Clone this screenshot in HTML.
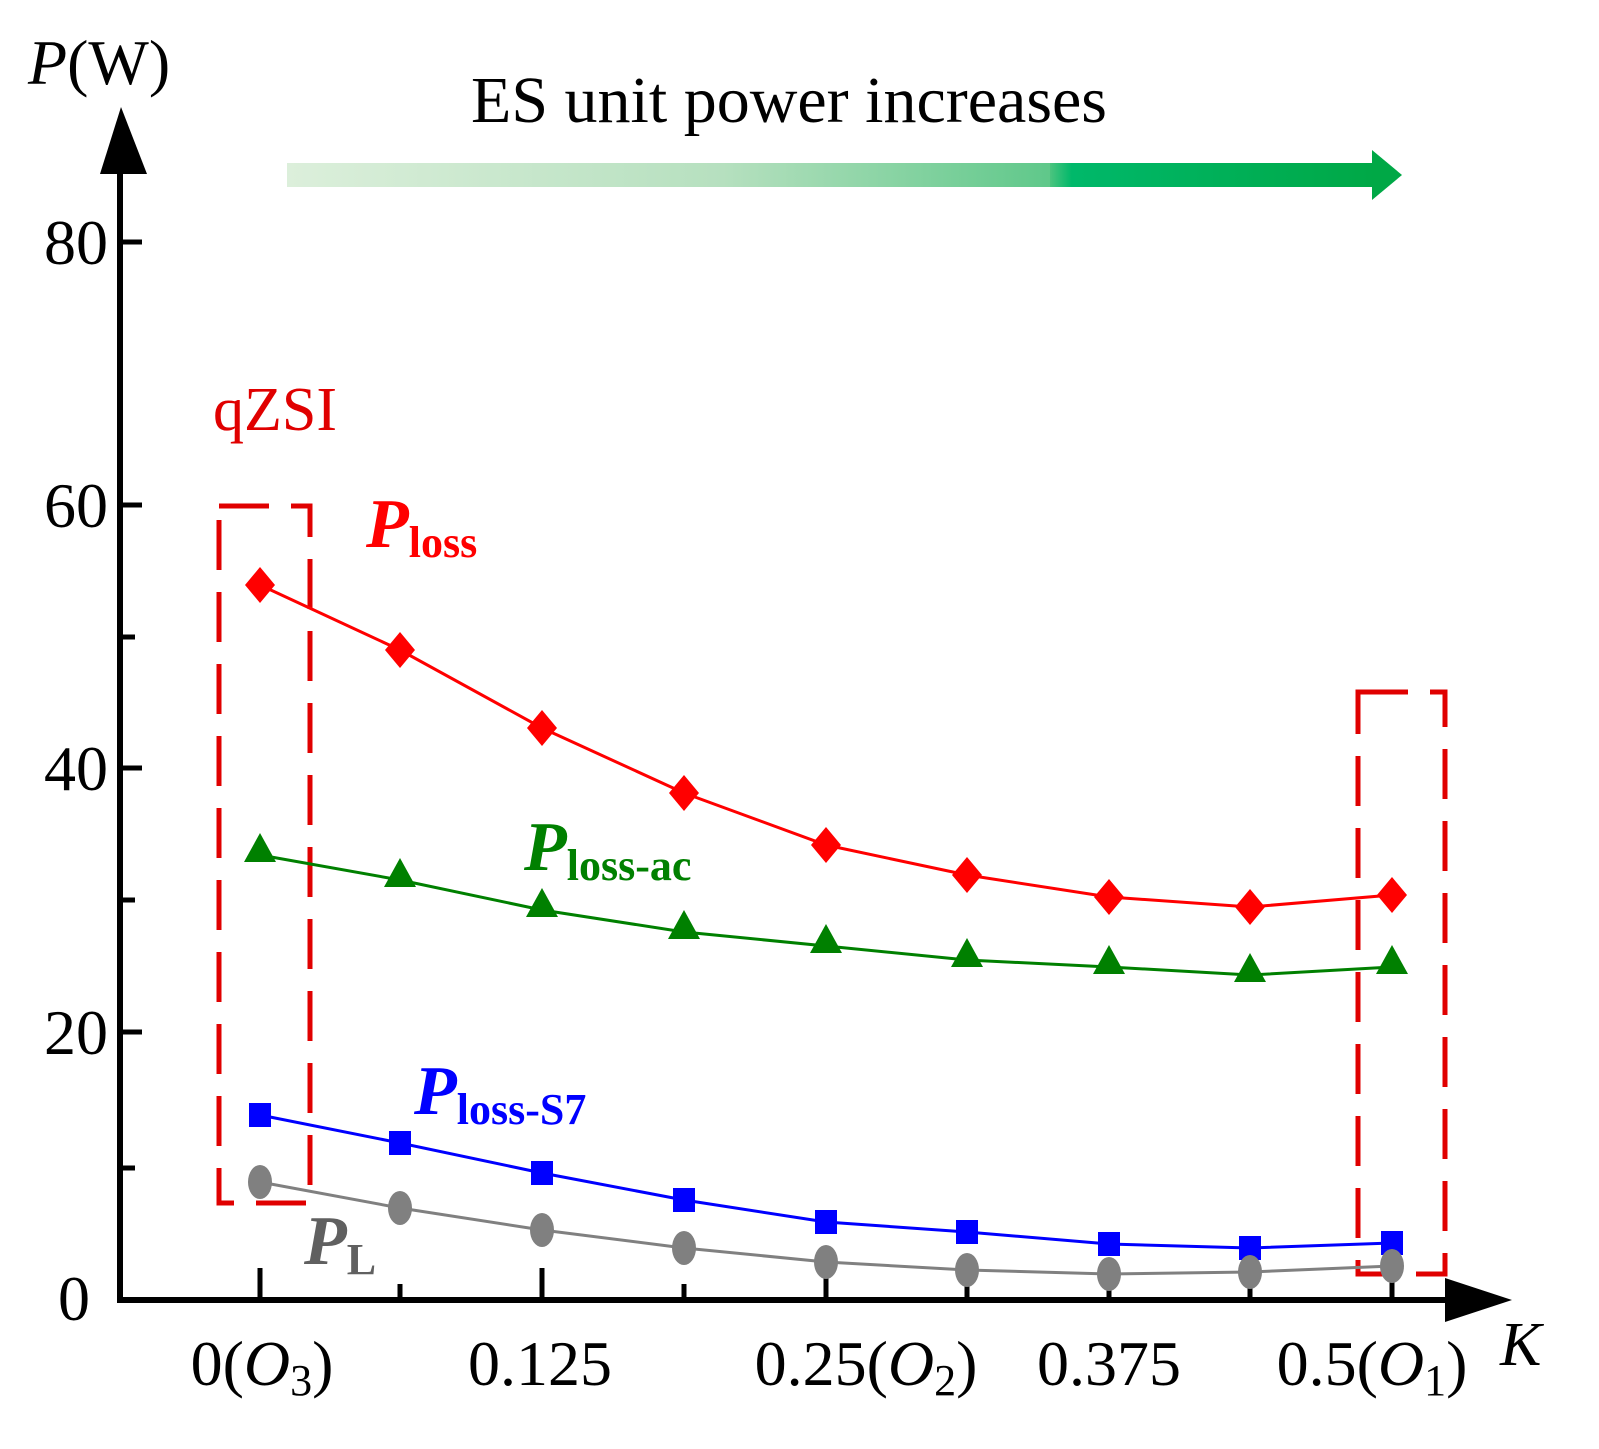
<!DOCTYPE html>
<html><head><style>
html,body{margin:0;padding:0;background:#fff;}
svg{display:block;}
text{font-family:"Liberation Serif",serif;}
</style></head><body>
<svg width="1599" height="1449" viewBox="0 0 1599 1449" xmlns="http://www.w3.org/2000/svg">
<defs>
<linearGradient id="g" x1="0" x2="1" y1="0" y2="0">
<stop offset="0" stop-color="#dcefdb"/>
<stop offset="0.4" stop-color="#b6e0bf"/>
<stop offset="0.7" stop-color="#5fc88a"/>
<stop offset="0.7" stop-color="#4cc47f"/>
<stop offset="0.72" stop-color="#00b86a"/>
<stop offset="1" stop-color="#00a846"/>
</linearGradient>
</defs>
<rect x="287" y="163" width="1090" height="24" fill="url(#g)"/>
<polygon points="1372,150 1402,175 1372,200" fill="#00a846"/>
<text x="789" y="122" font-size="66" text-anchor="middle">ES unit power increases</text>
<line x1="120" y1="170" x2="120" y2="1303" stroke="#000" stroke-width="6"/>
<polygon points="100,174 121,107 147,174" fill="#000"/>
<line x1="117" y1="1300" x2="1450" y2="1300" stroke="#000" stroke-width="6"/>
<polygon points="1445,1278 1512,1300 1445,1322" fill="#000"/>
<g stroke="#000" stroke-width="5">
<line x1="120" y1="242" x2="142" y2="242"/>
<line x1="120" y1="505" x2="142" y2="505"/>
<line x1="120" y1="768" x2="142" y2="768"/>
<line x1="120" y1="1032" x2="142" y2="1032"/>
<line x1="120" y1="637" x2="135" y2="637"/>
<line x1="120" y1="900" x2="135" y2="900"/>
<line x1="120" y1="1168" x2="135" y2="1168"/>
<line x1="260" y1="1268" x2="260" y2="1300"/>
<line x1="542" y1="1268" x2="542" y2="1300"/>
<line x1="826" y1="1268" x2="826" y2="1300"/>
<line x1="1109" y1="1268" x2="1109" y2="1300"/>
<line x1="1392" y1="1268" x2="1392" y2="1300"/>
<line x1="400" y1="1284" x2="400" y2="1300"/>
<line x1="684" y1="1284" x2="684" y2="1300"/>
<line x1="967" y1="1284" x2="967" y2="1300"/>
<line x1="1250" y1="1284" x2="1250" y2="1300"/>
</g>
<g font-size="64" text-anchor="end">
<text x="108" y="264">80</text>
<text x="108" y="527">60</text>
<text x="108" y="790">40</text>
<text x="108" y="1054">20</text>
<text x="90" y="1320">0</text>
</g>
<text x="28" y="84" font-size="64"><tspan font-style="italic">P</tspan>(W)</text>
<g font-size="64" text-anchor="middle">
<text x="262" y="1385">0(<tspan font-style="italic">O</tspan><tspan font-size="44" dy="10">3</tspan><tspan dy="-10">)</tspan></text>
<text x="540" y="1385">0.125</text>
<text x="866" y="1385">0.25(<tspan font-style="italic">O</tspan><tspan font-size="44" dy="10">2</tspan><tspan dy="-10">)</tspan></text>
<text x="1109" y="1385">0.375</text>
<text x="1372" y="1385">0.5(<tspan font-style="italic">O</tspan><tspan font-size="44" dy="10">1</tspan><tspan dy="-10">)</tspan></text>
</g>
<text x="1500" y="1365" font-size="62" font-style="italic">K</text>
<rect x="219" y="506" width="91" height="697" fill="none" stroke="#e00000" stroke-width="5" stroke-dasharray="50,22"/>
<rect x="1358" y="692" width="87" height="582" fill="none" stroke="#e00000" stroke-width="5" stroke-dasharray="50,22"/>
<text x="213" y="430" font-size="62" fill="#e00000">qZSI</text>
<polyline fill="none" stroke="#ff0000" stroke-width="3" points="260,585 400,650 542,728 684,793 826,845 967,875 1109,897 1250,907 1392,895"/>
<g fill="#ff0000">
<polygon points="260,567 275,585 260,603 245,585"/><polygon points="400,632 415,650 400,668 385,650"/>
<polygon points="542,710 557,728 542,746 527,728"/><polygon points="684,775 699,793 684,811 669,793"/>
<polygon points="826,827 841,845 826,863 811,845"/><polygon points="967,857 982,875 967,893 952,875"/>
<polygon points="1109,879 1124,897 1109,915 1094,897"/><polygon points="1250,889 1265,907 1250,925 1235,907"/>
<polygon points="1392,877 1407,895 1392,913 1377,895"/>
</g>
<polyline fill="none" stroke="#008000" stroke-width="3" points="260,855 400,880 542,910 684,932 826,946 967,960 1109,967 1250,975 1392,967"/>
<g fill="#008000">
<polygon points="260,833 276,862 244,862"/><polygon points="400,858 416,887 384,887"/>
<polygon points="542,888 558,917 526,917"/><polygon points="684,910 700,939 668,939"/>
<polygon points="826,924 842,953 810,953"/><polygon points="967,938 983,967 951,967"/>
<polygon points="1109,945 1125,974 1093,974"/><polygon points="1250,953 1266,982 1234,982"/>
<polygon points="1392,945 1408,974 1376,974"/>
</g>
<polyline fill="none" stroke="#0000ff" stroke-width="3" points="260,1115 400,1143 542,1173 684,1200 826,1222 967,1232 1109,1244 1250,1248 1392,1243"/>
<g fill="#0000ff">
<rect x="249" y="1103" width="22" height="24"/><rect x="389" y="1131" width="22" height="24"/>
<rect x="531" y="1161" width="22" height="24"/><rect x="673" y="1188" width="22" height="24"/>
<rect x="815" y="1210" width="22" height="24"/><rect x="956" y="1220" width="22" height="24"/>
<rect x="1098" y="1232" width="22" height="24"/><rect x="1239" y="1236" width="22" height="24"/>
<rect x="1381" y="1231" width="22" height="24"/>
</g>
<polyline fill="none" stroke="#808080" stroke-width="3" points="260,1182 400,1208 542,1230 684,1248 826,1262 967,1270 1109,1274 1250,1272 1392,1266"/>
<g fill="#808080">
<ellipse cx="260" cy="1182" rx="12" ry="17"/><ellipse cx="400" cy="1208" rx="12" ry="17"/>
<ellipse cx="542" cy="1230" rx="12" ry="17"/><ellipse cx="684" cy="1248" rx="12" ry="17"/>
<ellipse cx="826" cy="1262" rx="12" ry="17"/><ellipse cx="967" cy="1270" rx="12" ry="17"/>
<ellipse cx="1109" cy="1274" rx="12" ry="17"/><ellipse cx="1250" cy="1272" rx="12" ry="17"/>
<ellipse cx="1392" cy="1266" rx="12" ry="17"/>
</g>
<text x="366" y="547" font-size="70" font-weight="bold" font-style="italic" fill="#ff0000">P<tspan font-size="44" font-style="normal" dy="10">loss</tspan></text>
<text x="524" y="870" font-size="70" font-weight="bold" font-style="italic" fill="#008000">P<tspan font-size="44" font-style="normal" dy="10">loss-ac</tspan></text>
<text x="414" y="1114" font-size="70" font-weight="bold" font-style="italic" fill="#0000ff">P<tspan font-size="44" font-style="normal" dy="10">loss-S7</tspan></text>
<text x="304" y="1264" font-size="70" font-weight="bold" font-style="italic" fill="#606060">P<tspan font-size="44" font-style="normal" dy="10">L</tspan></text>
</svg>
</body></html>
